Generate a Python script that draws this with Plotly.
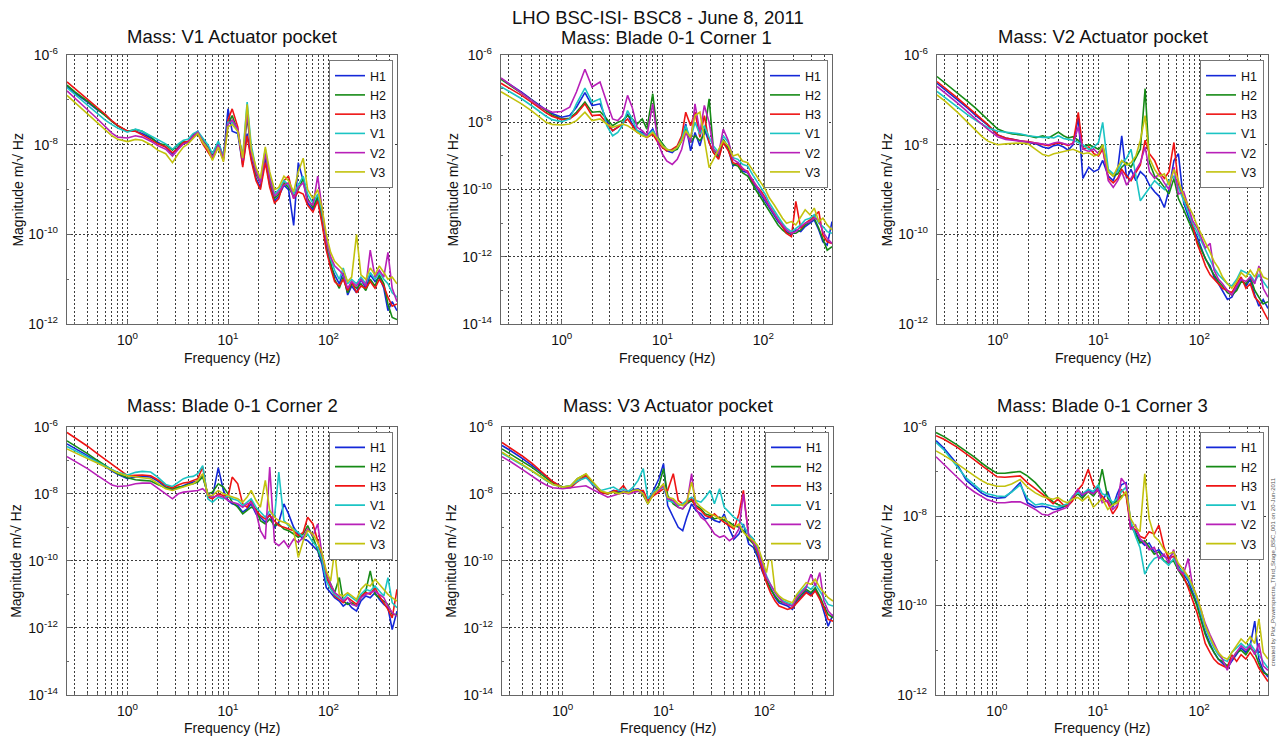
import math
import plotly.graph_objects as go

# ---------------- data (log10 of magnitude, m/sqrt(Hz)) ----------------
FREQ_HZ = [0.25, 0.3, 0.4, 0.5, 0.6, 0.7, 0.8, 1.0, 1.2, 1.4,
           1.7, 2.0, 2.4, 2.8, 3.2, 3.6, 4.0, 4.5, 5.0, 5.6,
           6.3, 7.0, 8.0, 9.0, 10, 11, 12.5, 14, 15.5, 17,
           19, 21, 23.5, 26, 29, 32, 36, 40, 45, 50,
           56, 62, 70, 78, 86, 95, 105, 115, 128, 140,
           155, 170, 190, 210, 235, 260, 290, 320, 355, 390,
           430, 480]

CHANNELS = ["H1", "H2", "H3", "V1", "V2", "V3"]
COLORS = ["#1428d8", "#168a16", "#ee1414", "#1cc4c4", "#b820b8", "#c2c20e"]

MAIN_TITLE = "LHO BSC-ISI- BSC8 - June 8, 2011"
PANEL_TITLES = ["Mass: V1 Actuator pocket", "Mass: Blade 0-1 Corner 1", "Mass: V2 Actuator pocket",
                "Mass: Blade 0-1 Corner 2", "Mass: V3 Actuator pocket", "Mass: Blade 0-1 Corner 3"]
PANEL_YMIN_EXP = [-12, -14, -12, -14, -14, -12]
X_LABEL = "Frequency (Hz)"
Y_LABEL = "Magnitude m/\u221a Hz"
CREDIT = "created by Plot_Powerspectra_Third_Stage_BSC_001 on 20-Jun-2011"

# Panel 1: V1 Actuator pocket
P1_H1 = [-6.70,-6.85,-7.05,-7.22,-7.33,-7.48,-7.58,-7.70,-7.70,-7.75,
         -7.85,-7.95,-8.05,-8.20,-8.05,-7.95,-7.95,-7.80,-7.70,-7.95,
         -8.10,-8.30,-7.95,-8.30,-7.20,-7.70,-7.75,-8.45,-7.75,-8.30,
         -8.75,-8.95,-8.30,-8.90,-9.25,-9.15,-8.90,-9.00,-9.80,-8.40,
         -8.80,-9.30,-9.45,-9.20,-9.70,-10.30,-10.70,-10.90,-11.10,-10.85,
         -11.35,-11.15,-11.30,-11.00,-11.20,-10.90,-11.05,-10.95,-11.20,-11.70,
         -11.50,-11.70]
P1_H2 = [-6.67,-6.82,-7.03,-7.20,-7.35,-7.48,-7.58,-7.70,-7.66,-7.70,
         -7.82,-7.98,-8.00,-8.12,-8.00,-7.92,-7.95,-7.78,-7.72,-7.90,
         -8.05,-8.25,-8.00,-8.25,-7.55,-7.35,-7.70,-8.30,-7.40,-8.10,
         -8.65,-8.85,-8.20,-8.80,-9.20,-9.10,-8.85,-8.95,-9.15,-9.00,
         -8.75,-9.20,-9.40,-9.15,-9.60,-10.20,-10.60,-11.00,-11.20,-10.95,
         -11.30,-11.10,-11.20,-11.10,-11.25,-11.00,-11.15,-10.90,-11.10,-11.55,
         -11.85,-11.90]
P1_H3 = [-6.60,-6.75,-6.98,-7.17,-7.32,-7.47,-7.57,-7.70,-7.70,-7.78,
         -7.88,-7.98,-8.05,-8.18,-8.08,-7.95,-7.92,-7.82,-7.75,-7.98,
         -8.15,-8.32,-8.05,-8.35,-7.45,-7.20,-7.60,-8.50,-7.80,-8.35,
         -8.80,-9.00,-8.40,-8.95,-9.30,-9.20,-8.80,-8.70,-9.20,-9.05,
         -9.10,-9.35,-9.50,-9.25,-9.75,-10.35,-10.75,-11.05,-11.15,-11.00,
         -11.25,-11.05,-11.30,-11.15,-11.20,-11.05,-11.20,-11.00,-11.15,-11.40,
         -11.60,-11.55]
P1_V1 = [-6.73,-6.88,-7.10,-7.28,-7.45,-7.55,-7.63,-7.72,-7.65,-7.70,
         -7.80,-7.90,-7.98,-8.10,-7.98,-7.90,-7.88,-7.75,-7.70,-7.85,
         -8.00,-8.20,-7.92,-8.28,-7.50,-7.50,-7.70,-8.25,-7.05,-8.00,
         -8.55,-8.80,-8.10,-8.70,-9.10,-9.00,-8.80,-8.90,-9.10,-8.90,
         -8.70,-9.10,-9.30,-9.10,-9.50,-10.10,-10.55,-10.80,-11.00,-10.75,
         -11.10,-11.00,-11.10,-10.95,-11.10,-10.85,-11.00,-10.85,-11.00,-11.10,
         -11.30,-11.40]
P1_V2 = [-6.80,-6.97,-7.22,-7.42,-7.60,-7.74,-7.83,-7.85,-7.80,-7.83,
         -7.92,-8.02,-8.10,-8.25,-8.10,-7.98,-7.95,-7.80,-7.72,-7.92,
         -8.08,-8.28,-8.00,-8.30,-7.55,-7.45,-7.65,-8.35,-7.30,-8.15,
         -8.60,-8.85,-8.20,-8.75,-9.15,-9.05,-8.90,-8.85,-9.20,-8.95,
         -8.85,-9.25,-9.35,-8.70,-9.40,-10.15,-10.50,-10.70,-10.80,-10.90,
         -11.20,-11.05,-11.15,-11.00,-11.15,-10.35,-10.95,-10.80,-10.95,-10.40,
         -11.20,-11.50]
P1_V3 = [-6.90,-7.06,-7.32,-7.52,-7.68,-7.80,-7.88,-7.93,-7.88,-7.90,
         -8.00,-8.12,-8.20,-8.40,-8.20,-8.05,-7.98,-7.85,-7.75,-7.95,
         -8.10,-8.35,-8.05,-8.38,-7.60,-7.55,-7.70,-8.30,-7.10,-8.10,
         -8.50,-8.75,-8.05,-8.60,-9.00,-8.95,-8.70,-8.80,-9.05,-8.60,
         -8.30,-9.00,-9.20,-9.00,-9.40,-10.00,-10.40,-10.60,-10.70,-10.80,
         -11.05,-10.95,-10.00,-10.90,-11.00,-10.75,-10.90,-10.70,-10.85,-11.00,
         -10.95,-11.10]

# Panel 2: Blade 0-1 Corner 1
P2_H1 = [-6.70,-6.85,-7.10,-7.32,-7.50,-7.63,-7.74,-7.85,-7.80,-7.55,
         -7.12,-7.50,-7.45,-7.95,-8.25,-8.15,-8.05,-7.75,-8.05,-8.25,
         -8.30,-8.40,-8.20,-8.55,-8.70,-8.85,-8.90,-8.75,-8.50,-8.05,
         -8.85,-8.30,-8.70,-8.20,-8.60,-8.90,-9.05,-8.55,-8.80,-9.30,
         -9.20,-9.45,-9.50,-9.80,-9.95,-10.15,-10.35,-10.55,-10.75,-10.95,
         -11.10,-11.25,-11.35,-11.20,-11.25,-11.10,-11.00,-10.90,-11.20,-11.55,
         -11.65,-10.95]
P2_H2 = [-6.72,-6.88,-7.12,-7.33,-7.52,-7.66,-7.78,-7.90,-7.88,-7.70,
         -7.40,-7.70,-7.68,-7.90,-8.10,-8.00,-7.95,-7.80,-7.90,-8.05,
         -7.90,-8.20,-7.15,-8.45,-8.65,-8.80,-8.85,-8.80,-8.55,-8.20,
         -8.60,-8.40,-8.55,-8.35,-7.30,-8.80,-9.00,-8.50,-8.75,-9.25,
         -9.30,-9.50,-9.60,-9.85,-10.05,-10.25,-10.45,-10.65,-10.85,-11.05,
         -11.20,-11.30,-11.30,-11.30,-11.20,-11.05,-10.95,-10.85,-11.15,-11.45,
         -11.80,-11.70]
P2_H3 = [-6.84,-6.98,-7.20,-7.40,-7.58,-7.72,-7.82,-7.92,-7.90,-7.75,
         -7.45,-7.80,-7.78,-8.05,-8.25,-8.15,-8.05,-7.90,-8.10,-8.30,
         -8.35,-8.45,-8.35,-8.60,-8.75,-8.85,-8.80,-8.70,-8.40,-7.70,
         -8.10,-7.70,-8.45,-7.80,-8.60,-8.90,-9.10,-8.60,-8.85,-9.20,
         -9.25,-9.40,-9.45,-9.75,-9.90,-10.05,-10.25,-10.50,-10.70,-10.90,
         -11.10,-11.30,-11.40,-10.35,-11.15,-11.00,-10.90,-10.80,-10.65,-11.35,
         -11.55,-11.60]
P2_V1 = [-6.94,-7.08,-7.30,-7.50,-7.68,-7.82,-7.92,-7.98,-7.90,-7.45,
         -6.98,-7.40,-7.30,-8.10,-8.40,-8.30,-8.10,-7.65,-7.90,-8.25,
         -8.35,-8.40,-8.25,-8.50,-8.70,-8.80,-8.85,-8.75,-8.50,-8.10,
         -8.50,-8.00,-8.35,-8.10,-8.45,-8.70,-8.90,-8.40,-8.60,-9.05,
         -9.10,-9.25,-9.30,-9.55,-9.75,-9.95,-10.15,-10.40,-10.60,-10.80,
         -11.00,-11.15,-11.25,-11.15,-11.05,-10.90,-10.85,-10.75,-11.00,-11.10,
         -11.25,-11.30]
P2_V2 = [-6.68,-6.85,-7.12,-7.35,-7.52,-7.62,-7.70,-7.68,-7.55,-7.10,
         -6.42,-6.95,-6.80,-7.40,-7.90,-7.95,-7.80,-7.20,-7.55,-8.15,
         -8.25,-8.40,-7.45,-8.60,-8.95,-9.15,-9.25,-9.10,-8.80,-8.30,
         -8.60,-7.45,-8.30,-7.50,-8.00,-8.80,-8.95,-8.20,-8.55,-9.10,
         -9.20,-9.35,-9.50,-9.70,-9.90,-10.10,-10.30,-10.50,-10.70,-10.90,
         -11.05,-11.20,-11.30,-11.25,-11.10,-11.00,-10.95,-10.85,-10.90,-11.25,
         -11.45,-11.60]
P2_V3 = [-7.09,-7.22,-7.45,-7.65,-7.85,-8.00,-8.06,-8.08,-8.05,-7.95,
         -7.70,-7.95,-7.90,-8.05,-8.15,-8.10,-8.05,-8.10,-8.20,-8.30,
         -8.40,-8.45,-8.30,-8.50,-8.70,-8.80,-8.85,-8.75,-8.55,-8.25,
         -8.45,-7.80,-7.70,-8.50,-9.35,-9.10,-8.80,-8.55,-8.70,-9.00,
         -8.95,-9.15,-9.20,-9.40,-9.60,-9.80,-10.00,-10.25,-10.45,-10.65,
         -10.85,-11.00,-10.95,-11.05,-10.80,-10.60,-10.75,-10.55,-10.95,-10.85,
         -11.05,-11.20]

# Panel 3: V2 Actuator pocket
P3_H1 = [-6.63,-6.77,-7.00,-7.18,-7.34,-7.46,-7.57,-7.78,-7.85,-7.88,
         -7.92,-7.95,-7.98,-8.05,-8.08,-8.02,-8.00,-8.05,-8.12,-8.00,
         -7.40,-8.75,-8.50,-8.60,-8.55,-8.35,-8.70,-8.80,-8.55,-7.80,
         -8.75,-8.55,-8.80,-8.60,-8.70,-8.90,-9.05,-9.15,-9.40,-9.00,
         -8.35,-8.20,-9.30,-9.60,-9.85,-10.05,-10.30,-10.55,-10.70,-10.95,
         -11.10,-11.25,-11.45,-11.40,-11.20,-11.00,-11.15,-11.00,-11.35,-11.60,
         -11.45,-11.65]
P3_H2 = [-6.48,-6.62,-6.85,-7.03,-7.18,-7.32,-7.45,-7.65,-7.72,-7.76,
         -7.78,-7.80,-7.84,-7.80,-7.85,-7.78,-7.72,-7.80,-7.85,-7.82,
         -7.90,-8.05,-8.00,-8.05,-8.10,-8.00,-8.60,-8.70,-8.65,-8.50,
         -8.40,-8.50,-8.30,-8.10,-6.75,-8.40,-8.70,-8.80,-8.95,-9.10,
         -8.75,-9.20,-9.45,-9.70,-9.95,-10.15,-10.35,-10.55,-10.75,-10.90,
         -11.05,-11.15,-11.30,-11.35,-11.25,-11.05,-11.10,-10.95,-11.25,-11.40,
         -11.55,-11.50]
P3_H3 = [-6.59,-6.73,-6.96,-7.15,-7.30,-7.43,-7.55,-7.78,-7.85,-7.88,
         -7.92,-7.93,-7.97,-8.00,-8.02,-7.98,-7.96,-7.98,-8.02,-7.96,
         -7.28,-8.10,-8.05,-8.20,-8.25,-8.10,-8.75,-8.85,-8.75,-8.55,
         -8.70,-8.80,-8.60,-8.45,-7.90,-8.20,-8.35,-8.60,-8.75,-8.60,
         -7.95,-8.90,-9.20,-9.45,-9.80,-10.20,-10.45,-10.70,-10.90,-11.00,
         -11.10,-11.20,-11.25,-11.30,-11.10,-10.95,-11.20,-11.10,-11.40,-11.50,
         -11.70,-11.90]
P3_V1 = [-6.81,-6.95,-7.17,-7.33,-7.45,-7.55,-7.62,-7.70,-7.72,-7.74,
         -7.76,-7.80,-7.82,-7.84,-7.83,-7.85,-7.80,-7.86,-7.88,-7.90,
         -7.95,-8.00,-8.10,-8.05,-7.95,-7.50,-8.55,-8.65,-8.60,-8.40,
         -8.30,-8.10,-8.70,-9.25,-9.10,-8.95,-8.80,-8.90,-9.00,-8.80,
         -8.70,-8.95,-9.25,-9.50,-9.75,-9.95,-10.15,-10.35,-10.55,-10.75,
         -10.90,-11.00,-11.10,-11.15,-11.00,-10.80,-10.85,-10.90,-11.05,-10.90,
         -11.05,-11.20]
P3_V2 = [-6.70,-6.84,-7.07,-7.26,-7.42,-7.55,-7.66,-7.82,-7.88,-7.90,
         -7.93,-7.94,-7.96,-7.98,-8.00,-7.96,-7.94,-7.97,-8.00,-7.98,
         -7.60,-8.10,-8.15,-8.10,-8.20,-8.05,-8.80,-8.95,-8.80,-8.60,
         -8.90,-8.75,-8.55,-8.40,-8.05,-8.60,-8.75,-8.65,-8.85,-9.00,
         -8.50,-9.10,-9.05,-9.40,-9.70,-9.85,-10.10,-10.30,-10.20,-10.80,
         -11.00,-11.10,-11.25,-11.35,-11.15,-11.00,-11.05,-10.95,-11.10,-10.70,
         -11.20,-11.40]
P3_V3 = [-6.89,-7.03,-7.28,-7.50,-7.68,-7.82,-7.92,-8.00,-7.98,-7.97,
         -7.96,-7.98,-8.10,-8.22,-8.25,-8.20,-8.18,-8.15,-8.12,-8.10,
         -8.15,-8.20,-8.18,-8.25,-8.22,-8.00,-8.60,-8.70,-8.50,-8.35,
         -8.45,-8.40,-8.25,-7.90,-7.35,-8.30,-8.55,-8.70,-8.65,-8.90,
         -8.55,-8.80,-9.15,-9.35,-9.55,-9.80,-10.00,-10.15,-10.40,-10.60,
         -10.75,-10.95,-11.10,-11.20,-11.05,-10.85,-10.95,-10.80,-10.95,-10.75,
         -10.95,-11.00]

# Panel 4: Blade 0-1 Corner 2
P4_H1 = [-6.51,-6.64,-6.86,-7.04,-7.20,-7.32,-7.42,-7.55,-7.50,-7.48,
         -7.50,-7.62,-7.80,-7.88,-7.82,-7.75,-7.70,-7.65,-7.62,-7.45,
         -8.05,-8.10,-7.22,-7.90,-8.20,-8.30,-8.35,-8.55,-8.45,-8.30,
         -8.60,-8.70,-8.85,-8.60,-9.00,-8.85,-8.30,-8.60,-9.00,-9.20,
         -9.35,-9.40,-9.55,-9.70,-10.10,-10.80,-10.95,-11.10,-11.20,-11.35,
         -11.25,-11.40,-11.50,-11.20,-11.05,-11.10,-10.95,-11.15,-11.30,-11.40,
         -12.05,-11.50]
P4_H2 = [-6.42,-6.56,-6.80,-7.00,-7.15,-7.28,-7.40,-7.52,-7.58,-7.60,
         -7.62,-7.72,-7.82,-7.85,-7.80,-7.78,-7.72,-7.70,-7.65,-7.50,
         -8.00,-7.95,-7.70,-7.80,-8.00,-8.25,-8.40,-8.60,-8.50,-8.40,
         -8.45,-8.80,-8.90,-8.75,-8.95,-8.90,-9.05,-9.10,-9.20,-9.30,
         -9.20,-8.95,-9.30,-9.65,-10.00,-10.40,-10.70,-10.95,-10.50,-11.20,
         -11.30,-11.25,-11.35,-11.10,-10.90,-10.30,-11.00,-11.10,-11.20,-11.30,
         -11.60,-11.60]
P4_H3 = [-6.17,-6.32,-6.58,-6.80,-6.98,-7.13,-7.26,-7.46,-7.45,-7.44,
         -7.46,-7.58,-7.75,-7.82,-7.74,-7.68,-7.66,-7.60,-7.55,-7.20,
         -8.10,-8.15,-8.00,-8.05,-8.10,-7.50,-7.70,-8.30,-8.40,-8.20,
         -8.50,-8.65,-8.75,-8.65,-8.80,-8.95,-9.00,-9.05,-9.10,-9.25,
         -9.15,-8.70,-8.90,-9.40,-9.90,-10.50,-10.80,-11.05,-11.15,-11.25,
         -11.10,-11.20,-11.30,-11.05,-10.95,-11.00,-10.80,-11.05,-11.25,-11.45,
         -11.70,-10.85]
P4_V1 = [-6.59,-6.71,-6.90,-7.05,-7.18,-7.28,-7.36,-7.44,-7.36,-7.33,
         -7.35,-7.50,-7.72,-7.78,-7.65,-7.55,-7.50,-7.48,-7.40,-7.16,
         -8.15,-8.25,-8.10,-8.15,-8.05,-8.15,-8.20,-8.35,-8.25,-8.15,
         -8.40,-8.55,-8.70,-8.50,-8.70,-7.35,-8.80,-8.95,-9.05,-9.15,
         -9.30,-9.20,-9.45,-9.60,-9.95,-10.60,-10.85,-11.00,-11.10,-11.15,
         -11.00,-11.10,-11.20,-11.00,-10.85,-10.90,-10.75,-10.90,-11.05,-10.50,
         -11.25,-11.40]
P4_V2 = [-6.89,-7.02,-7.25,-7.45,-7.62,-7.74,-7.78,-7.76,-7.70,-7.68,
         -7.68,-7.82,-8.00,-8.15,-8.00,-7.95,-7.93,-7.92,-7.90,-7.85,
         -8.00,-8.10,-8.05,-8.10,-8.20,-8.25,-8.30,-8.40,-8.30,-8.25,
         -8.55,-9.10,-9.35,-7.20,-9.45,-9.55,-9.40,-9.60,-9.35,-9.45,
         -9.30,-9.05,-9.25,-8.90,-9.80,-10.35,-10.70,-10.95,-11.05,-11.20,
         -11.10,-11.30,-11.35,-11.10,-11.00,-10.95,-10.90,-11.00,-11.10,-11.35,
         -11.55,-11.65]
P4_V3 = [-6.66,-6.78,-6.95,-7.08,-7.20,-7.30,-7.38,-7.46,-7.50,-7.52,
         -7.55,-7.68,-7.85,-7.90,-7.85,-7.80,-7.75,-7.70,-7.60,-7.40,
         -8.05,-8.05,-7.90,-8.00,-8.05,-8.10,-8.15,-8.25,-8.10,-7.90,
         -8.20,-8.40,-7.60,-8.50,-8.70,-8.80,-8.85,-8.90,-9.10,-9.90,
         -9.40,-9.10,-9.20,-9.45,-9.75,-10.30,-10.60,-9.70,-11.00,-11.05,
         -10.95,-11.05,-11.15,-10.85,-10.70,-10.75,-10.55,-10.70,-10.85,-11.00,
         -11.10,-11.20]

# Panel 5: V3 Actuator pocket
P5_H1 = [-6.56,-6.70,-6.95,-7.15,-7.34,-7.50,-7.65,-7.80,-7.78,-7.62,
         -7.48,-7.75,-7.95,-7.98,-7.90,-7.95,-7.92,-7.95,-7.88,-7.85,
         -7.95,-8.25,-7.90,-7.55,-7.10,-8.35,-8.70,-9.00,-9.10,-8.70,
         -8.30,-8.50,-8.60,-8.75,-8.70,-8.80,-8.85,-8.60,-9.05,-9.35,
         -9.20,-8.90,-9.50,-9.60,-9.90,-10.30,-10.60,-10.80,-11.10,-11.25,
         -11.30,-11.35,-11.45,-11.20,-11.05,-10.90,-11.00,-10.85,-11.10,-11.50,
         -11.95,-11.60]
P5_H2 = [-6.66,-6.80,-7.04,-7.22,-7.40,-7.55,-7.68,-7.80,-7.76,-7.55,
         -7.42,-7.70,-7.95,-8.00,-7.94,-7.98,-7.95,-7.98,-7.92,-7.88,
         -8.05,-8.30,-7.95,-7.75,-7.25,-8.05,-8.30,-8.40,-8.45,-8.30,
         -8.20,-8.35,-8.45,-8.60,-8.65,-8.75,-8.70,-8.80,-8.85,-8.95,
         -9.00,-9.10,-9.35,-9.50,-9.80,-10.20,-10.55,-10.85,-11.05,-11.20,
         -11.25,-11.30,-11.35,-11.15,-11.00,-10.85,-10.95,-10.80,-11.05,-11.35,
         -11.60,-11.70]
P5_H3 = [-6.47,-6.62,-6.88,-7.10,-7.30,-7.48,-7.64,-7.82,-7.82,-7.64,
         -7.46,-7.72,-7.96,-8.00,-7.92,-7.90,-7.75,-7.98,-7.94,-7.90,
         -7.90,-8.20,-8.05,-7.95,-7.85,-7.90,-7.40,-8.20,-8.30,-8.25,
         -8.15,-8.40,-8.50,-8.65,-8.70,-8.60,-8.75,-8.85,-8.95,-9.05,
         -8.60,-7.90,-9.30,-9.45,-9.75,-10.25,-10.65,-10.95,-11.20,-11.35,
         -11.40,-11.45,-11.40,-11.25,-11.10,-10.95,-11.05,-10.90,-11.15,-11.40,
         -11.75,-11.80]
P5_V1 = [-6.79,-6.92,-7.15,-7.33,-7.50,-7.63,-7.72,-7.80,-7.76,-7.62,
         -7.52,-7.72,-7.90,-7.85,-7.80,-7.90,-7.85,-7.92,-7.80,-7.60,
         -7.25,-8.15,-7.92,-7.85,-7.80,-8.20,-8.25,-8.35,-8.30,-8.20,
         -8.10,-8.20,-8.25,-8.10,-7.90,-8.30,-7.85,-8.40,-8.55,-8.70,
         -8.80,-8.95,-9.20,-9.35,-9.65,-10.05,-10.45,-10.70,-10.95,-11.10,
         -11.20,-11.25,-11.30,-11.05,-10.90,-10.75,-10.85,-10.70,-10.90,-11.10,
         -11.30,-11.35]
P5_V2 = [-6.89,-7.03,-7.28,-7.48,-7.64,-7.75,-7.82,-7.85,-7.82,-7.78,
         -7.76,-7.88,-8.00,-8.10,-8.05,-8.00,-7.96,-8.00,-7.95,-7.92,
         -8.00,-8.28,-7.98,-7.90,-7.75,-8.15,-8.20,-8.40,-8.45,-8.30,
         -7.40,-8.45,-8.70,-8.80,-9.00,-9.20,-9.30,-9.25,-9.40,-9.30,
         -9.05,-8.00,-9.25,-9.45,-9.70,-10.10,-10.50,-10.70,-10.95,-11.10,
         -11.25,-11.30,-11.35,-11.10,-10.95,-10.80,-10.40,-10.75,-10.35,-11.20,
         -11.50,-11.65]
P5_V3 = [-6.76,-6.90,-7.13,-7.32,-7.48,-7.62,-7.72,-7.80,-7.76,-7.55,
         -7.40,-7.65,-7.92,-7.98,-7.95,-8.00,-7.94,-7.98,-7.90,-7.88,
         -8.00,-8.30,-8.00,-7.85,-7.70,-8.10,-8.15,-8.30,-8.35,-8.25,
         -7.65,-8.25,-8.40,-8.50,-8.60,-8.65,-8.75,-8.70,-8.90,-9.00,
         -8.90,-9.15,-9.30,-9.40,-9.55,-9.95,-10.35,-9.70,-10.90,-11.05,
         -11.15,-11.20,-11.25,-11.00,-10.80,-10.65,-10.70,-10.55,-10.80,-10.95,
         -11.10,-11.20]

# Panel 6: Blade 0-1 Corner 3
P6_H1 = [-6.31,-6.48,-6.82,-7.20,-7.35,-7.48,-7.55,-7.60,-7.58,-7.45,
         -7.25,-7.70,-7.80,-7.78,-7.80,-7.85,-7.84,-7.80,-7.74,-7.60,
         -7.45,-7.55,-7.40,-7.50,-7.35,-7.65,-7.45,-7.80,-7.50,-7.30,
         -7.25,-8.15,-8.35,-8.55,-8.65,-8.60,-8.80,-8.75,-8.90,-8.95,
         -8.80,-9.10,-9.30,-9.45,-9.70,-9.95,-10.30,-10.60,-10.85,-11.05,
         -11.20,-11.30,-11.40,-11.25,-11.10,-10.95,-11.05,-10.90,-10.35,-11.20,
         -11.45,-11.60]
P6_H2 = [-6.13,-6.22,-6.40,-6.55,-6.68,-6.80,-6.90,-7.04,-7.04,-7.02,
         -7.00,-7.10,-7.25,-7.42,-7.58,-7.68,-7.74,-7.78,-7.75,-7.62,
         -7.50,-7.60,-7.45,-7.55,-7.40,-6.95,-7.60,-7.75,-7.65,-7.55,
         -7.50,-8.20,-8.40,-8.60,-8.55,-8.70,-8.85,-8.80,-9.00,-9.05,
         -9.00,-9.20,-9.40,-9.55,-9.75,-10.00,-10.35,-10.65,-10.90,-11.05,
         -11.20,-11.25,-11.35,-11.20,-11.05,-11.00,-11.10,-10.95,-11.05,-11.30,
         -11.50,-11.55]
P6_H3 = [-6.20,-6.28,-6.45,-6.60,-6.74,-6.86,-6.96,-7.12,-7.13,-7.12,
         -7.10,-7.25,-7.38,-7.50,-7.62,-7.72,-7.62,-7.74,-7.78,-7.66,
         -7.42,-7.30,-6.95,-7.30,-7.45,-7.55,-7.70,-7.95,-7.80,-7.40,
         -7.55,-8.25,-8.30,-8.45,-8.50,-8.35,-8.40,-8.20,-8.70,-8.95,
         -8.90,-9.15,-9.35,-9.60,-9.85,-10.15,-10.50,-10.85,-11.05,-11.20,
         -11.30,-11.35,-11.40,-11.10,-11.25,-11.10,-11.20,-11.05,-11.20,-11.40,
         -11.55,-11.70]
P6_V1 = [-6.35,-6.52,-6.88,-7.15,-7.30,-7.43,-7.50,-7.55,-7.56,-7.46,
         -7.30,-7.60,-7.75,-7.72,-7.75,-7.78,-7.80,-7.76,-7.72,-7.55,
         -7.48,-7.50,-7.40,-7.45,-7.30,-7.50,-7.55,-7.70,-7.60,-7.45,
         -7.35,-8.10,-8.45,-8.70,-9.30,-9.10,-8.95,-8.90,-9.00,-9.10,
         -8.95,-9.15,-9.25,-9.40,-9.60,-9.85,-10.20,-10.50,-10.75,-10.95,
         -11.10,-11.20,-11.25,-11.05,-10.95,-10.85,-10.95,-10.85,-11.00,-11.10,
         -11.25,-11.40]
P6_V2 = [-6.67,-6.84,-7.10,-7.33,-7.46,-7.56,-7.63,-7.70,-7.70,-7.68,
         -7.68,-7.75,-7.85,-7.96,-7.98,-7.92,-7.88,-7.84,-7.80,-7.58,
         -7.40,-7.52,-7.45,-7.50,-7.40,-7.70,-7.65,-7.85,-7.75,-7.15,
         -7.30,-8.30,-8.20,-8.50,-8.60,-8.75,-8.70,-8.95,-8.85,-9.05,
         -8.75,-9.20,-9.30,-8.95,-9.55,-9.80,-10.10,-10.40,-10.65,-10.85,
         -11.05,-11.20,-11.45,-11.20,-11.05,-10.90,-11.00,-10.90,-11.10,-10.85,
         -11.35,-11.45]
P6_V3 = [-6.54,-6.64,-6.82,-6.98,-7.10,-7.20,-7.27,-7.33,-7.33,-7.28,
         -7.18,-7.35,-7.48,-7.56,-7.60,-7.62,-7.58,-7.66,-7.70,-7.62,
         -7.58,-7.66,-7.55,-7.80,-7.70,-7.60,-7.85,-7.75,-7.70,-7.60,
         -7.45,-8.05,-8.25,-8.35,-7.05,-8.05,-8.45,-8.55,-8.75,-8.85,
         -8.80,-9.05,-9.20,-9.35,-9.55,-9.80,-10.10,-10.45,-10.70,-10.90,
         -11.05,-11.15,-11.20,-11.05,-10.90,-10.75,-10.85,-10.70,-10.85,-10.30,
         -11.05,-11.20]

PANEL_SERIES = [
    [P1_H1, P1_H2, P1_H3, P1_V1, P1_V2, P1_V3],
    [P2_H1, P2_H2, P2_H3, P2_V1, P2_V2, P2_V3],
    [P3_H1, P3_H2, P3_H3, P3_V1, P3_V2, P3_V3],
    [P4_H1, P4_H2, P4_H3, P4_V1, P4_V2, P4_V3],
    [P5_H1, P5_H2, P5_H3, P5_V1, P5_V2, P5_V3],
    [P6_H1, P6_H2, P6_H3, P6_V1, P6_V2, P6_V3],
]

# ---------------- layout (target pixel positions in the photo) ----------------
W, H = 1278, 740
FONT = "Liberation Sans, Arial, Helvetica, sans-serif"
# the photographed page is slightly squeezed vertically (0.979, +7.8px); compensate
V_SCALE, V_OFF = 0.979, 7.8
# plot-area boxes: left, right, top, bottom
BOXES = [(67, 397, 53, 323), (501, 832, 53, 323), (937, 1268, 53, 323),
         (67, 397, 426, 695), (502, 833, 426, 695), (936, 1268, 426, 695)]
TITLE_Y = [34, 35, 34, 405, 405, 405]
XLAB_Y = [357, 357, 357, 728, 728, 728]
YLAB_X = [18, 453, 887, 16, 451, 887]


def px(x):
    return x / W


def py(y):
    return 1 - ((y - V_OFF) / V_SCALE) / H


major_x = [1, 10, 100]
minor_x = []
for dec in (0.1, 1, 10, 100):
    for m in range(2, 10):
        v = m * dec
        if 0.25 < v < 480:
            minor_x.append(v)

fig = go.Figure()
annotations = []
layout_axes = {}
GRIDCOLOR = "#3c3c3c"
GRIDDASH = "2px,2px"

for i, (series, box) in enumerate(zip(PANEL_SERIES, BOXES)):
    n = i + 1
    xa = "x" if n == 1 else "x%d" % n
    ya = "y" if n == 1 else "y%d" % n
    lg = "legend" if n == 1 else "legend%d" % n
    for ch, col, vals in zip(CHANNELS, COLORS, series):
        assert len(vals) == len(FREQ_HZ)
        fig.add_trace(go.Scatter(
            x=FREQ_HZ, y=[10 ** v for v in vals], mode="lines", name=ch,
            line=dict(color=col, width=1.6), xaxis=xa, yaxis=ya, legend=lg,
            showlegend=True))
    l, r, t, b = box
    ymin = PANEL_YMIN_EXP[i]
    yt = list(range(ymin, -5, 2))
    ym = list(range(ymin + 1, -6, 2))
    layout_axes["xaxis" if n == 1 else "xaxis%d" % n] = dict(
        type="log", domain=[px(l), px(r)], anchor=ya,
        range=[math.log10(0.25), math.log10(480)],
        tickmode="array", tickvals=major_x,
        ticktext=["10<sup>%d</sup>" % round(math.log10(v)) for v in major_x],
        showgrid=True, gridcolor=GRIDCOLOR, griddash=GRIDDASH, gridwidth=1,
        minor=dict(tickmode="array", tickvals=minor_x, showgrid=True,
                   gridcolor=GRIDCOLOR, griddash=GRIDDASH, gridwidth=1,
                   ticks="inside", ticklen=2, tickcolor="#666666"),
        showline=True, mirror=True, linecolor="#666666", linewidth=1.3,
        ticks="inside", ticklen=4, tickcolor="#666666",
        zeroline=False, tickfont=dict(size=14, color="#111"),
        ticklabelstandoff=3)
    layout_axes["yaxis" if n == 1 else "yaxis%d" % n] = dict(
        type="log", domain=[py(b), py(t)], anchor=xa,
        range=[ymin, -6],
        tickmode="array",
        tickvals=[10.0 ** k for k in yt],
        ticktext=["10<sup>%d</sup>" % k for k in yt],
        showgrid=True, gridcolor=GRIDCOLOR, griddash=GRIDDASH, gridwidth=1,
        minor=dict(tickmode="array", tickvals=[10.0 ** k for k in ym], showgrid=False,
                   ticks="inside", ticklen=2, tickcolor="#666666"),
        showline=True, mirror=True, linecolor="#666666", linewidth=1.3,
        ticks="inside", ticklen=4, tickcolor="#666666",
        zeroline=False, tickfont=dict(size=14, color="#111"),
        ticklabelstandoff=5)
    layout_axes[lg] = dict(
        x=px(r - 4), xanchor="right", y=py(t + 5), yanchor="top",
        xref="paper", yref="paper",
        bgcolor="white", bordercolor="#777777", borderwidth=1,
        font=dict(size=12.5, color="#111", family=FONT),
        itemwidth=30, tracegroupgap=0)
    cx = (l + r) / 2
    annotations.append(dict(text=PANEL_TITLES[i], x=px(cx), y=py(TITLE_Y[i]),
                            xref="paper", yref="paper", showarrow=False,
                            xanchor="center", yanchor="middle",
                            font=dict(size=18.5, color="#111")))
    annotations.append(dict(text=X_LABEL, x=px(cx), y=py(XLAB_Y[i]),
                            xref="paper", yref="paper", showarrow=False,
                            xanchor="center", yanchor="middle",
                            font=dict(size=14, color="#111")))
    annotations.append(dict(text=Y_LABEL, x=px(YLAB_X[i]), y=py((t + b) / 2),
                            xref="paper", yref="paper", showarrow=False,
                            textangle=-90, xanchor="center", yanchor="middle",
                            font=dict(size=14, color="#111")))

annotations.append(dict(text=MAIN_TITLE, x=px(658), y=py(15), xref="paper", yref="paper",
                        showarrow=False, xanchor="center", yanchor="middle",
                        font=dict(size=18.5, color="#111")))
annotations.append(dict(text=CREDIT, x=px(1273), y=py(572), xref="paper", yref="paper",
                        showarrow=False, textangle=-90, xanchor="center", yanchor="middle",
                        font=dict(size=6, color="#555")))

fig.update_layout(
    width=W, height=H, margin=dict(l=0, r=0, t=0, b=0),
    paper_bgcolor="white", plot_bgcolor="white",
    font=dict(family=FONT, color="#111"),
    annotations=annotations, hovermode=False,
    **layout_axes)

fig.write_html("out.html")
